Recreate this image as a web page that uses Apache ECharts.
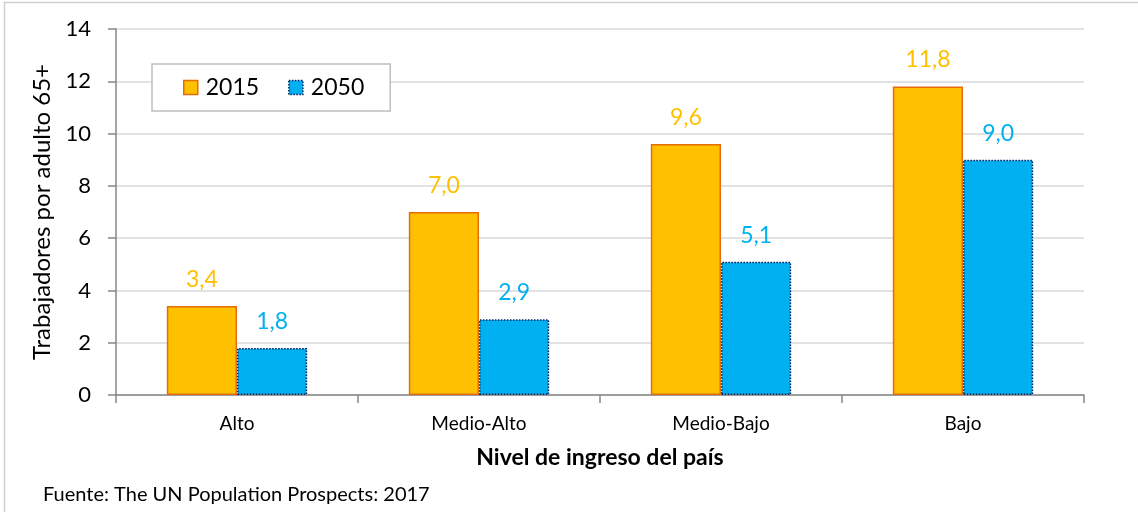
<!DOCTYPE html>
<html>
<head>
<meta charset="utf-8">
<script src="https://cdn.jsdelivr.net/npm/echarts@6/dist/echarts.min.js"></script>
<style>
  html, body { margin: 0; padding: 0; background: #fff; }
  #chart { width: 1138px; height: 512px; }
</style>
</head>
<body>
<div id="chart"></div>
<script>
// Workers per adult aged 65+, by country income level
const categories = ['Alto', 'Medio-Alto', 'Medio-Bajo', 'Bajo'];
const values2015 = [3.4, 7.0, 9.6, 11.8];
const values2050 = [1.8, 2.9, 5.1, 9.0];
const seriesNames = ['2015', '2050'];

const FONT = 'Lato, "Open Sans", sans-serif';
const fmt = v => v.toFixed(1).replace('.', ',');

const chart = echarts.init(document.getElementById('chart'), null, { renderer: 'canvas' });

chart.setOption({
  animation: false,
  textStyle: { fontFamily: FONT },
  grid: { left: 116, right: 54, top: 29, bottom: 117, containLabel: false },
  graphic: [
    {
      type: 'rect',
      shape: { x: 4.5, y: 2.5, width: 1200, height: 600 },
      style: { fill: 'none', stroke: '#d0d0d0', lineWidth: 1.5 },
      silent: true, z: -10
    },
    {
      type: 'text',
      x: 43, y: 495,
      style: {
        text: 'Fuente: The UN Population Prospects: 2017',
        font: '20px ' + FONT, fill: '#000',
        textVerticalAlign: 'middle'
      }
    }
  ],
  legend: {
    left: 152, top: 64,
    padding: [12, 26, 12, 31],
    itemGap: 29,
    itemWidth: 14, itemHeight: 14,
    backgroundColor: '#fff',
    borderColor: '#bfbfbf', borderWidth: 1.5,
    textStyle: { fontSize: 23, color: '#000', fontFamily: FONT, padding: [0, 0, 0, 3] },
    data: [
      { name: seriesNames[0], icon: 'rect', itemStyle: { color: '#FFC000', borderColor: '#E46C0A', borderWidth: 1.5 } },
      { name: seriesNames[1], icon: 'rect', itemStyle: { color: '#00B0F0', borderColor: '#002060', borderWidth: 1.5, borderType: 'dotted' } }
    ]
  },
  xAxis: {
    type: 'category',
    data: categories,
    name: 'Nivel de ingreso del país',
    nameLocation: 'middle',
    nameGap: 51,
    nameTextStyle: { fontSize: 23, fontWeight: 'bold', color: '#000', fontFamily: FONT },
    axisLine: { lineStyle: { color: '#868686', width: 1.5 } },
    axisTick: { show: true, length: 8, alignWithLabel: false, lineStyle: { color: '#868686', width: 1.5 } },
    axisLabel: { fontSize: 19, color: '#000', margin: 19, fontFamily: FONT }
  },
  yAxis: {
    type: 'value',
    min: 0, max: 14, interval: 2,
    name: 'Trabajadores por adulto 65+',
    nameLocation: 'middle',
    nameGap: 62,
    nameRotate: 90,
    nameTextStyle: { fontSize: 24, color: '#000', fontFamily: FONT },
    axisLine: { show: true, lineStyle: { color: '#868686', width: 1.5 } },
    axisTick: { show: true, length: 8, lineStyle: { color: '#868686', width: 1.5 } },
    axisLabel: { fontSize: 22, color: '#000', margin: 25, fontFamily: FONT },
    splitLine: { lineStyle: { color: '#d9d9d9', width: 1.5 } }
  },
  series: [
    {
      name: seriesNames[0],
      type: 'bar',
      data: values2015,
      barGap: '0%',
      barCategoryGap: '42%',
      itemStyle: { color: '#FFC000', borderColor: '#E46C0A', borderWidth: 1.5 },
      label: {
        show: true, position: 'top', distance: 15,
        fontSize: 23, color: '#FFC000', fontFamily: FONT,
        formatter: p => fmt(p.value)
      }
    },
    {
      name: seriesNames[1],
      type: 'bar',
      data: values2050,
      itemStyle: { color: '#00B0F0', borderColor: '#002060', borderWidth: 1.5, borderType: 'dotted' },
      label: {
        show: true, position: 'top', distance: 15,
        fontSize: 23, color: '#00B0F0', fontFamily: FONT,
        formatter: p => fmt(p.value)
      }
    }
  ]
});
</script>
</body>
</html>
